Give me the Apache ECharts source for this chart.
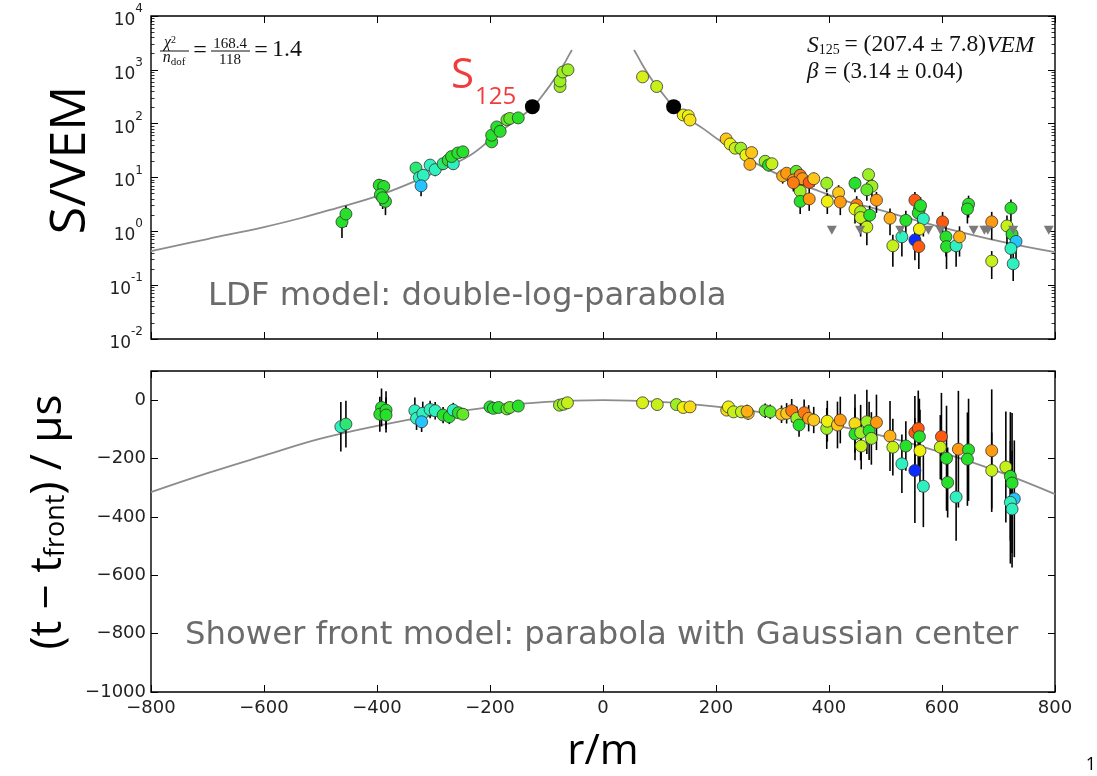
<!DOCTYPE html>
<html><head><meta charset="utf-8">
<script src="https://cdn.jsdelivr.net/npm/echarts@6/dist/echarts.min.js"></script>
<style>html,body{margin:0;padding:0;background:#fff}#c{width:1097px;height:776px}</style>
</head><body><div id="c"></div>
<script>
// ---------------- DATA ----------------
const xTickValues = [-800, -600, -400, -200, 0, 200, 400, 600, 800];
// LDF panel: [r (m), S (VEM), error (VEM), colour value]
const ldfPoints = [
  [-462, 1.5, 0.75, 3], [-455, 2.1, 0.9, 3],
  [-396, 7.2, 2.2, 3], [-388, 6.8, 2.1, 3], [-394, 4.8, 1.8, 3], [-385, 3.6, 1.6, 3], [-390, 4.2, 1.6, 3],
  [-331, 15, 3.5, 2.5], [-325, 10, 3, 2], [-318, 11, 3, 2], [-322, 7, 2.5, 1],
  [-306, 17, 4, 2], [-297, 14, 3.5, 2], [-283, 18, 4, 2.5], [-274, 21, 4.5, 3], [-265, 18, 4, 2],
  [-268, 24.5, 5, 3], [-257, 28.5, 5, 3], [-248, 30, 5, 3],
  [-197, 46, 7, 3], [-197, 61, 8, 3], [-188, 87, 10, 3], [-182, 72, 9, 3],
  [-170, 118, 12, 3.5], [-165, 125, 12, 3.5], [-150, 128, 12, 3],
  [-76, 490, 35, 4], [-76, 620, 40, 4], [-71, 910, 50, 4], [-62, 1000, 50, 4],
  [70, 740, 40, 4.7], [95, 490, 35, 4.5],
  [142, 145, 12, 5], [151, 140, 12, 5], [154, 117, 11, 5.3],
  [218, 52, 7, 6], [225, 42, 6, 5], [234, 35, 6, 4.5], [244, 35, 6, 4], [253, 26, 5, 5], [263, 29, 5, 6], [260, 17.6, 4, 6.5],
  [287, 20, 4, 4], [293, 17, 4, 3], [299, 18, 4, 4.5],
  [318, 10.7, 3, 6.5], [325, 12, 3, 7], [342, 13, 3, 3.5], [337, 9, 3, 7], [349, 11, 3, 7.5], [353, 9.5, 3, 7],
  [365, 8.1, 2.5, 8], [373, 9.5, 2.8, 6], [349, 5.6, 2, 4], [349, 3.6, 1.5, 3], [365, 4, 1.6, 7], [337, 8, 2.5, 7.5],
  [396, 7.8, 2.5, 4], [397, 3.6, 1.5, 5], [417, 5.2, 2, 6], [420, 3.5, 1.5, 7], [446, 7.8, 2.5, 3],
  [470, 11.3, 3, 4], [476, 6.9, 2.5, 4], [467, 5.9, 2.2, 3.5],
  [449, 3.1, 1.4, 7.5], [446, 2.6, 1.2, 5], [456, 2.3, 1.1, 4], [456, 1.8, 1.0, 4.5], [472, 2.0, 1.0, 3],
  [467, 1.2, 0.65, 4.5], [484, 3.8, 1.6, 7], [508, 1.75, 0.9, 6.5],
  [536, 1.6, 0.8, 3], [529, 0.79, 0.45, 2], [513, 0.54, 0.32, 4.5],
  [552, 3.8, 1.6, 8], [560, 2.6, 1.2, 3], [558, 2.2, 1.1, 3], [562, 3.0, 1.3, 3], [567, 1.7, 0.9, 2],
  [560, 1.1, 0.6, 5], [552, 0.69, 0.4, 0], [559, 0.52, 0.32, 8],
  [601, 1.5, 0.8, 8], [607, 0.79, 0.45, 3], [608, 0.52, 0.32, 3], [625, 0.54, 0.32, 2], [631, 0.79, 0.45, 6.5],
  [647, 3.2, 1.4, 3], [645, 2.6, 1.2, 3],
  [688, 1.5, 0.8, 7], [688, 0.28, 0.15, 4.5],
  [715, 1.26, 0.7, 4.5], [722, 2.7, 1.2, 3], [724, 0.89, 0.5, 3], [731, 0.65, 0.38, 1], [722, 0.48, 0.28, 2], [726, 0.25, 0.13, 2]
];
// silent stations (grey triangles)
const silentR = [405, 455, 526, 576, 597, 656, 675, 681, 726, 789];
const silentS = [1.05, 1.05, 1.05, 1.05, 1.05, 1.05, 1.05, 1.05, 1.05, 1.05];
// S125 reference points
const s125R = [-125, 125];
const s125S = [207, 207];
// LDF fit curve
const ldfCurveLeftR = [-800, -700, -600, -536, -483, -395, -306, -235, -188, -129, -100, -70, -60, -55];
const ldfCurveLeftS = [0.43, 0.72, 1.2, 1.75, 2.5, 4.7, 11.3, 26, 64, 185, 420, 1230, 1900, 2340];
const ldfCurveRightR = [55, 60, 70, 89, 100, 125, 150, 178, 207, 266, 325, 384, 443, 467, 585, 703, 800];
const ldfCurveRightS = [2340, 1900, 1230, 600, 430, 207, 125, 80, 48, 19.5, 9.7, 5.5, 3.3, 2.9, 1.31, 0.65, 0.41];

// Shower front panel: [r (m), t - t_front (μs), error (μs), colour value]
const frontPoints = [
  [-464, -91, 85, 2], [-455, -82, 80, 2.5],
  [-392, -25, 65, 3], [-395, -48, 60, 3], [-384, -34, 65, 3], [-384, -51, 60, 3],
  [-333, -36, 45, 2], [-330, -62, 40, 2], [-319, -45, 40, 2], [-321, -74, 35, 1],
  [-306, -32, 30, 2], [-297, -36, 30, 2], [-283, -51, 28, 3], [-272, -57, 25, 3], [-265, -34, 25, 2],
  [-256, -43, 20, 3], [-248, -48, 20, 3.5],
  [-200, -23, 12, 3], [-194, -28, 12, 3], [-185, -25, 10, 3], [-170, -30, 10, 3.5], [-165, -25, 10, 3.5], [-150, -20, 10, 3],
  [-77, -17, 8, 4], [-70, -14, 8, 4], [-63, -9, 8, 4.5],
  [70, -9, 8, 4.7], [96, -15, 8, 4.5], [130, -15, 8, 4], [142, -25, 8, 5], [154, -23, 8, 5.5],
  [219, -34, 18, 5.5], [222, -23, 18, 5], [231, -40, 18, 4.5], [245, -40, 20, 4.5], [257, -45, 22, 6], [255, -38, 22, 6.5],
  [287, -36, 25, 3.5], [296, -40, 25, 3.5],
  [316, -48, 30, 6], [325, -45, 35, 6], [334, -36, 40, 7.5], [343, -62, 40, 4], [347, -85, 40, 3],
  [356, -43, 45, 7.5], [364, -62, 45, 7], [373, -68, 45, 6],
  [396, -97, 70, 4], [397, -72, 70, 5], [415, -85, 80, 6], [420, -68, 80, 7],
  [446, -80, 100, 5.5], [446, -116, 90, 3], [456, -111, 95, 4], [457, -157, 80, 4.5],
  [467, -74, 110, 4], [471, -105, 100, 3], [475, -131, 90, 4], [484, -76, 95, 7],
  [508, -123, 120, 6.5], [513, -161, 97, 4.5], [529, -218, 100, 2], [536, -157, 85, 3],
  [552, -241, 180, 0], [552, -111, 125, 8], [558, -97, 130, 8], [560, -125, 130, 3], [561, -173, 140, 5], [567, -295, 140, 2],
  [599, -125, 150, 8], [597, -161, 110, 4.5], [608, -199, 180, 3], [610, -282, 120, 3], [625, -332, 150, 2],
  [629, -168, 200, 7], [647, -170, 175, 3], [645, -202, 160, 3],
  [688, -173, 210, 7], [688, -241, 130, 4.5],
  [713, -229, 190, 4.5], [721, -261, 220, 3], [724, -284, 240, 3], [728, -338, 200, 1], [721, -350, 210, 2], [724, -373, 200, 2]
];
// shower front fit curve
const frontCurveR = [-800, -700, -600, -500, -400, -300, -200, -100, 0, 100, 200, 300, 400, 500, 600, 700, 800];
const frontCurveT = [-315, -250, -190, -132, -88, -52, -24, -6, 0, -6, -22, -47, -82, -125, -180, -245, -322];

// minor tick positions of the log axis (in decades)
const minorLog = [];
for (let e = -2; e < 4; e++) for (let k = 2; k <= 9; k++) minorLog.push(e + Math.log10(k));

// ---------------- CHART ----------------
const chart = echarts.init(document.getElementById('c'), null, {renderer: 'canvas'});
const tickFont = {fontFamily: 'DejaVu Sans', fontSize: 18, color: '#222'};
const palette = ['#0a2cff', '#25c4ff', '#2ff0bf', '#26e02a', '#9cef22', '#f0f010', '#ffc61a', '#ff9a10', '#ff5a10'];
const minus = v => (v < 0 ? '\u2212' + (-v) : '' + v);

const noLine = {show: false, onZero: false};
const tickStyle = {inside: true, length: 7, lineStyle: {color: '#000', width: 1}};
function xAx(grid, pos, labels) {
  return {type: 'value', gridIndex: grid, position: pos, min: -800, max: 800, interval: 200,
    axisLine: noLine, axisTick: tickStyle, splitLine: {show: false},
    axisLabel: labels ? Object.assign({margin: 7, formatter: minus}, tickFont) : {show: false}};
}

const errRender = (params, api) => {
  const p1 = api.coord([api.value(0), api.value(1)]);
  const p2 = api.coord([api.value(0), api.value(2)]);
  return {type: 'line', shape: {x1: p1[0], y1: p1[1], x2: p2[0], y2: p2[1]},
    style: {stroke: '#000', lineWidth: 1.6}};
};
const minorTick = {inside: true, length: 3.5, customValues: minorLog, lineStyle: {color: '#000', width: 0.8}};

const option = {
  animation: false,
  backgroundColor: '#fff',
  grid: [
    {left: 151, top: 16, width: 904, height: 323, show: true, borderColor: '#000', borderWidth: 1.4, backgroundColor: 'transparent'},
    {left: 151, top: 371, width: 904, height: 321, show: true, borderColor: '#000', borderWidth: 1.4, backgroundColor: 'transparent'}
  ],
  xAxis: [xAx(0, 'bottom', false), xAx(0, 'top', false), xAx(1, 'bottom', true), xAx(1, 'top', false)],
  yAxis: [
    {type: 'log', gridIndex: 0, position: 'left', min: 0.01, max: 10000, logBase: 10,
      axisLine: noLine, axisTick: tickStyle, splitLine: {show: false},
      axisLabel: {margin: 8, formatter: v => '{b|10}{s|' + Math.round(Math.log10(v)) + '}',
        rich: {b: {fontFamily: 'DejaVu Sans', fontSize: 17, color: '#222', verticalAlign: 'bottom', lineHeight: 26},
               s: {fontFamily: 'DejaVu Sans', fontSize: 12, color: '#222', verticalAlign: 'top', lineHeight: 26}}}},
    {type: 'log', gridIndex: 0, position: 'right', min: 0.01, max: 10000, logBase: 10,
      axisLine: noLine, axisTick: tickStyle, splitLine: {show: false}, axisLabel: {show: false}},
    {type: 'value', gridIndex: 0, position: 'left', min: -2, max: 4,
      axisLine: noLine, splitLine: {show: false}, axisLabel: {show: false}, axisTick: minorTick},
    {type: 'value', gridIndex: 0, position: 'right', min: -2, max: 4,
      axisLine: noLine, splitLine: {show: false}, axisLabel: {show: false}, axisTick: minorTick},
    {type: 'value', gridIndex: 1, position: 'left', min: -1000, max: 100, interval: 200,
      axisLine: noLine, axisTick: tickStyle, splitLine: {show: false},
      axisLabel: Object.assign({margin: 5, formatter: v => (v > 0 ? '' : minus(v))}, tickFont)},
    {type: 'value', gridIndex: 1, position: 'right', min: -1000, max: 100, interval: 200,
      axisLine: noLine, axisTick: tickStyle, splitLine: {show: false}, axisLabel: {show: false}}
  ],
  visualMap: [{type: 'continuous', show: false, min: 0, max: 8, dimension: 3, seriesIndex: [3, 8],
    inRange: {color: palette}}],
  series: [
    {type: 'custom', xAxisIndex: 0, yAxisIndex: 0, z: 2, renderItem: errRender,
      encode: {x: 0, y: [1, 2]},
      data: ldfPoints.map(p => [p[0], p[1] - p[2], p[1] + p[2]])},
    {type: 'line', xAxisIndex: 0, yAxisIndex: 0, z: 1, smooth: 0.4, symbol: 'none',
      lineStyle: {color: '#8c8c8c', width: 1.8},
      data: ldfCurveLeftR.map((r, i) => [r, ldfCurveLeftS[i]])},
    {type: 'line', xAxisIndex: 0, yAxisIndex: 0, z: 1, smooth: 0.4, symbol: 'none',
      lineStyle: {color: '#8c8c8c', width: 1.8},
      data: ldfCurveRightR.map((r, i) => [r, ldfCurveRightS[i]])},
    {type: 'scatter', xAxisIndex: 0, yAxisIndex: 0, z: 3, symbolSize: 12,
      itemStyle: {borderColor: '#333', borderWidth: 0.8, opacity: 1},
      data: ldfPoints.map(p => [p[0], p[1], p[2], p[3]])},
    {type: 'scatter', xAxisIndex: 0, yAxisIndex: 0, z: 4, symbolSize: 15,
      itemStyle: {color: '#000', opacity: 1},
      data: s125R.map((r, i) => [r, s125S[i]])},
    {type: 'scatter', xAxisIndex: 0, yAxisIndex: 0, z: 3, symbol: 'triangle', symbolRotate: 180, symbolSize: [10, 9],
      itemStyle: {color: '#7a7a7a', opacity: 1},
      data: silentR.map((r, i) => [r, silentS[i]])},
    {type: 'custom', xAxisIndex: 2, yAxisIndex: 4, z: 2, renderItem: errRender,
      encode: {x: 0, y: [1, 2]},
      data: frontPoints.map(p => [p[0], p[1] - p[2], p[1] + p[2]])},
    {type: 'line', xAxisIndex: 2, yAxisIndex: 4, z: 1, smooth: 0.4, symbol: 'none',
      lineStyle: {color: '#8c8c8c', width: 1.8},
      data: frontCurveR.map((r, i) => [r, frontCurveT[i]])},
    {type: 'scatter', xAxisIndex: 2, yAxisIndex: 4, z: 3, symbolSize: 12,
      itemStyle: {borderColor: '#333', borderWidth: 0.8, opacity: 1},
      data: frontPoints.map(p => [p[0], p[1], p[2], p[3]])}
  ],
  graphic: [
    {type: 'text', x: 71, y: 160, rotation: Math.PI / 2,
      style: {text: 'S/VEM', fontFamily: 'Open Sans', fontSize: 50, fill: '#000', align: 'center', verticalAlign: 'middle'}},
    {type: 'text', x: 48, y: 522, rotation: Math.PI / 2,
      style: {text: '(t \u2212 t{sub|front}) / \u03bcs', fontFamily: 'Open Sans', fontSize: 44, fill: '#000',
        align: 'center', verticalAlign: 'middle',
        rich: {sub: {fontFamily: 'Open Sans', fontSize: 27, fill: '#000', verticalAlign: 'bottom'}}}},
    {type: 'text', x: 603, y: 752,
      style: {text: 'r/m', fontFamily: 'Open Sans', fontSize: 42, fill: '#000', align: 'center', verticalAlign: 'middle'}},
    {type: 'text', x: 208, y: 297,
      style: {text: 'LDF model: double-log-parabola', fontFamily: 'DejaVu Sans', fontSize: 32.3, fill: '#6b6b6b', align: 'left', verticalAlign: 'middle'}},
    {type: 'text', x: 185, y: 636,
      style: {text: 'Shower front model: parabola with Gaussian center', fontFamily: 'DejaVu Sans', fontSize: 32.3, fill: '#6b6b6b', align: 'left', verticalAlign: 'middle'}},
    {type: 'text', x: 451, y: 76,
      style: {text: 'S', fontFamily: 'Open Sans', fontSize: 42, fill: '#f23c3c', align: 'left', verticalAlign: 'middle'}},
    {type: 'text', x: 475, y: 97,
      style: {text: '125', fontFamily: 'Open Sans', fontSize: 24, fill: '#f23c3c', align: 'left', verticalAlign: 'middle'}},
    // chi2 / ndof
    {type: 'text', x: 170, y: 43,
      style: {text: '\u03c7{sup|2}', fontFamily: 'Liberation Serif', fontSize: 16, fontStyle: 'italic', fill: '#111', align: 'center', verticalAlign: 'middle',
        rich: {sup: {fontFamily: 'Liberation Serif', fontSize: 10, verticalAlign: 'top', fill: '#111'}}}},
    {type: 'line', shape: {x1: 160, y1: 51, x2: 189, y2: 51}, style: {stroke: '#111', lineWidth: 1}},
    {type: 'text', x: 174, y: 59,
      style: {text: '{n|n}{d|dof}', fill: '#111', align: 'center', verticalAlign: 'middle',
        rich: {n: {fontFamily: 'Liberation Serif', fontSize: 16, fontStyle: 'italic', verticalAlign: 'top', lineHeight: 18},
               d: {fontFamily: 'Liberation Serif', fontSize: 11, verticalAlign: 'bottom', lineHeight: 18}}}},
    {type: 'text', x: 200, y: 51,
      style: {text: '=', fontFamily: 'Liberation Serif', fontSize: 24, fill: '#111', align: 'center', verticalAlign: 'middle'}},
    {type: 'text', x: 230, y: 44,
      style: {text: '168.4', fontFamily: 'Liberation Serif', fontSize: 15, fill: '#111', align: 'center', verticalAlign: 'middle'}},
    {type: 'line', shape: {x1: 211, y1: 51, x2: 250, y2: 51}, style: {stroke: '#111', lineWidth: 1}},
    {type: 'text', x: 230, y: 60,
      style: {text: '118', fontFamily: 'Liberation Serif', fontSize: 15, fill: '#111', align: 'center', verticalAlign: 'middle'}},
    {type: 'text', x: 261, y: 51,
      style: {text: '=', fontFamily: 'Liberation Serif', fontSize: 24, fill: '#111', align: 'center', verticalAlign: 'middle'}},
    {type: 'text', x: 272, y: 50,
      style: {text: '1.4', fontFamily: 'Liberation Serif', fontSize: 24, fill: '#111', align: 'left', verticalAlign: 'middle'}},
    // S125 result
    {type: 'text', x: 807, y: 43,
      style: {text: '{i|S}{sub|125}{r|\u2009= (207.4 \u00b1 7.8)}{i|VEM}', fill: '#111', align: 'left', verticalAlign: 'middle',
        rich: {i: {fontFamily: 'Liberation Serif', fontStyle: 'italic', fontSize: 23.5, verticalAlign: 'bottom', lineHeight: 28},
               sub: {fontFamily: 'Liberation Serif', fontSize: 14, verticalAlign: 'bottom', lineHeight: 24},
               r: {fontFamily: 'Liberation Serif', fontSize: 23.5, verticalAlign: 'bottom', lineHeight: 28}}}},
    {type: 'text', x: 807, y: 72,
      style: {text: '{i|\u03b2}{r| = (3.14 \u00b1 0.04)}', fill: '#111', align: 'left', verticalAlign: 'middle',
        rich: {i: {fontFamily: 'Liberation Serif', fontStyle: 'italic', fontSize: 23, lineHeight: 28},
               r: {fontFamily: 'Liberation Serif', fontSize: 23, lineHeight: 28}}}},
    {type: 'text', x: 1091, y: 765,
      style: {text: '1', fontFamily: 'Open Sans', fontSize: 18, fill: '#000', align: 'center', verticalAlign: 'middle'}}
  ]
};
chart.setOption(option);
</script>
</body></html>
